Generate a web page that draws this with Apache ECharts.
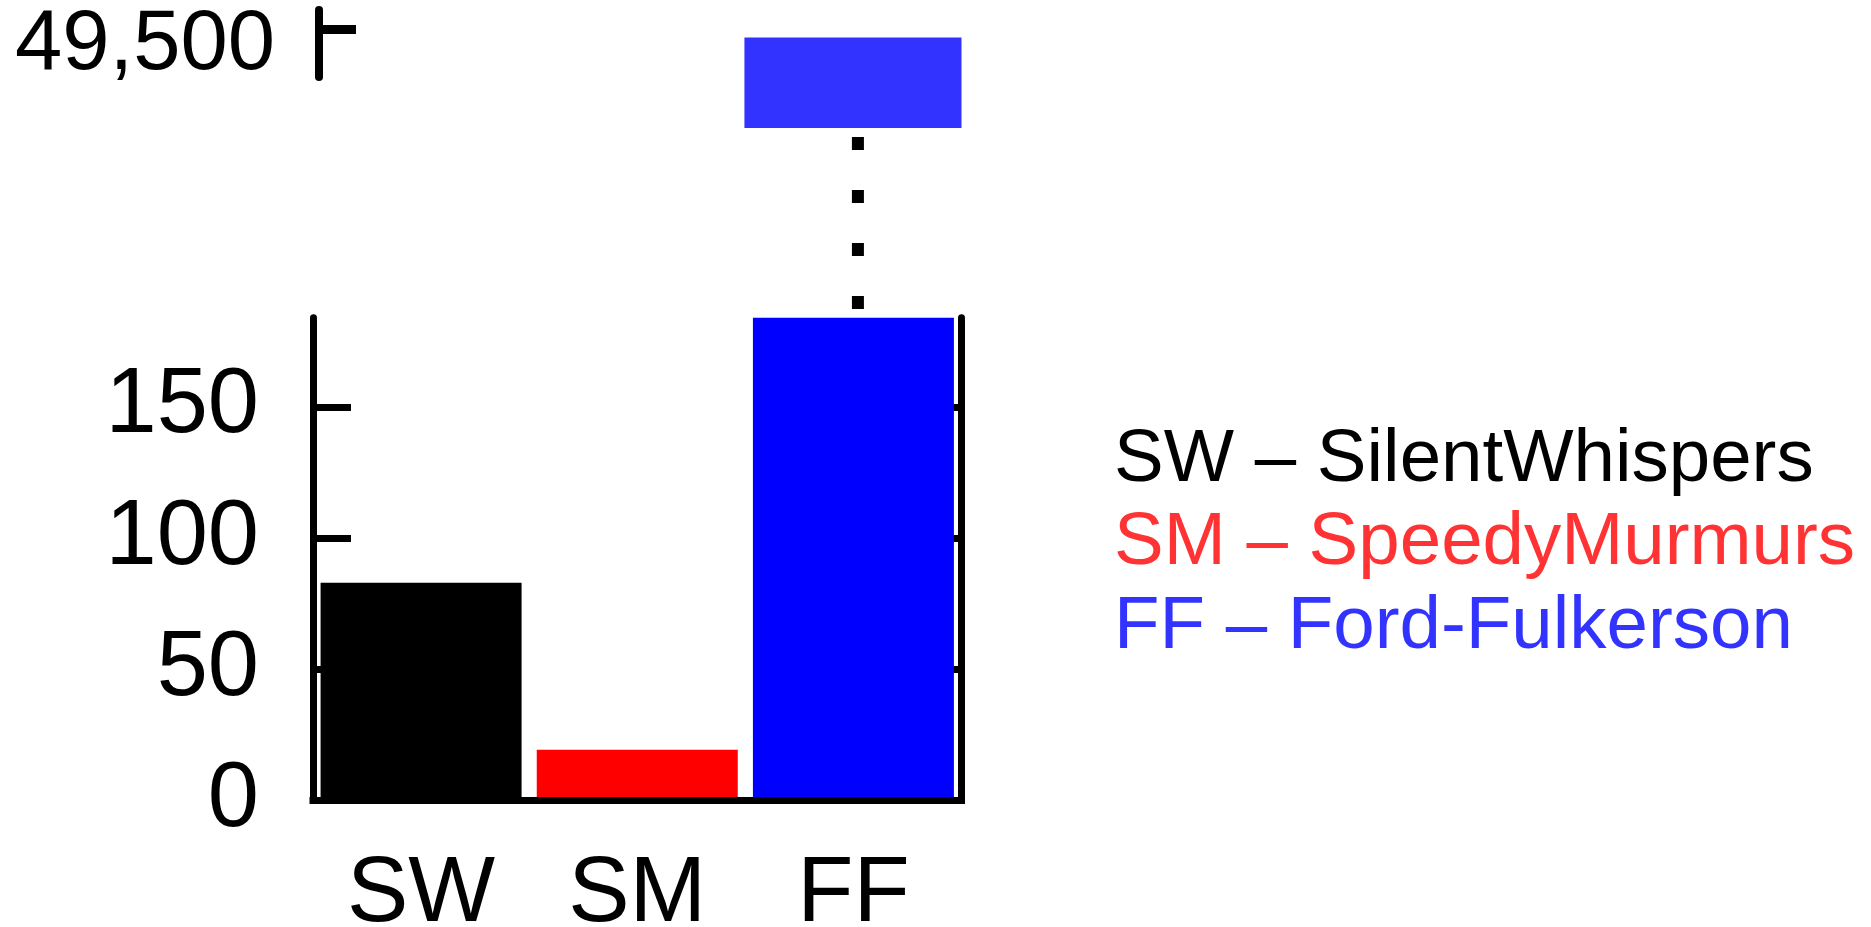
<!DOCTYPE html>
<html>
<head>
<meta charset="utf-8">
<script src="https://cdn.jsdelivr.net/npm/echarts@6/dist/echarts.min.js"></script>
<style>
html,body{margin:0;padding:0;background:#fff;}
#chart{width:1871px;height:927px;}
</style>
</head>
<body>
<div id="chart"></div>
<script>
// ---- data ----
const categories = ['SW', 'SM', 'FF'];
const values = [83, 19.3, 49497];
const barColors = ['#000000', '#ff0000', '#0000ff'];
const brokenBarColor = '#3333ff';
const lowerTicks = [0, 50, 100, 150];
const upperTicks = [49500];
const legendLines = ['SW \u2013 SilentWhispers', 'SM \u2013 SpeedyMurmurs', 'FF \u2013 Ford-Fulkerson'];
const legendColors = ['#000000', '#ff3333', '#3333ff'];

// ---- axis ranges ----
const lowerMin = 0, lowerMax = 184;
const upperBarMin = 49462.5, upperMax = 49507.5;
const upperAxisMin = 49482;

const FONT = "'Liberation Sans', Arial, sans-serif";
const fmt = v => Number(v).toLocaleString('en-US');
const brokenCats = categories.filter((c, i) => values[i] > lowerMax);

const chart = echarts.init(document.getElementById('chart'), null, {renderer: 'canvas'});

const rich = {};
legendLines.forEach((t, i) => {
  rich['l' + i] = {color: legendColors[i], fontSize: 74.5, lineHeight: 83.3, fontFamily: FONT, fontWeight: 'normal'};
});

const option = {
  animation: false,
  backgroundColor: '#ffffff',
  title: {
    text: legendLines.map((t, i) => '{l' + i + '|' + t + '}').join('\n'),
    left: 1114,
    top: 419,
    padding: 0,
    textStyle: {fontSize: 74.5, lineHeight: 83.3, fontFamily: FONT, fontWeight: 'normal', rich: rich}
  },
  grid: [
    {left: 313, right: 909.5, top: 317.8, bottom: 126.5, outerBoundsMode: 'none', containLabel: false},
    {left: 313, right: 909.5, top: 10, height: 118, outerBoundsMode: 'none', containLabel: false},
    {left: 319, top: 10, height: 66.9, width: 600, outerBoundsMode: 'none', containLabel: false},
    {left: 317.5, right: 905, top: 137, bottom: 618, outerBoundsMode: 'none', containLabel: false}
  ],
  xAxis: [
    {
      gridIndex: 0, type: 'category', data: categories, z: 3,
      axisLine: {show: true, lineStyle: {color: '#000', width: 7, cap: 'square'}},
      axisTick: {show: false},
      axisLabel: {color: '#000', fontSize: 92, fontFamily: FONT, margin: 49}
    },
    {gridIndex: 1, type: 'category', data: categories, show: false},
    {gridIndex: 2, type: 'category', data: categories, show: false},
    {gridIndex: 3, type: 'category', data: categories, show: false}
  ],
  yAxis: [
    {
      gridIndex: 0, type: 'value', min: lowerMin, max: lowerMax, position: 'left',
      axisLine: {show: true, lineStyle: {color: '#000', width: 7}},
      axisTick: {show: true, inside: true, length: 38, lineStyle: {color: '#000', width: 7}, customValues: lowerTicks},
      axisLabel: {show: true, color: '#000', fontSize: 92, fontFamily: FONT, margin: 54, customValues: lowerTicks},
      splitLine: {show: false}
    },
    {
      gridIndex: 0, type: 'value', min: lowerMin, max: lowerMax, position: 'right',
      axisLine: {show: true, lineStyle: {color: '#000', width: 7}},
      axisTick: {show: true, inside: true, length: 38, lineStyle: {color: '#000', width: 7}, customValues: lowerTicks},
      axisLabel: {show: false},
      splitLine: {show: false}
    },
    {gridIndex: 1, type: 'value', min: upperBarMin, max: upperMax, show: false, splitLine: {show: false}},
    {
      gridIndex: 2, type: 'value', min: upperAxisMin, max: upperMax, position: 'left',
      axisLine: {show: true, lineStyle: {color: '#000', width: 8}},
      axisTick: {show: true, inside: true, length: 37, lineStyle: {color: '#000', width: 9}, customValues: upperTicks},
      axisLabel: {show: true, color: '#000', fontSize: 85, fontFamily: FONT, margin: 44,
                  verticalAlign: 'top', lineHeight: 31, customValues: upperTicks, formatter: fmt},
      splitLine: {show: false}
    },
    {gridIndex: 3, type: 'value', min: 0, max: 1, show: false, splitLine: {show: false}}
  ],
  series: [
    {
      type: 'bar', xAxisIndex: 0, yAxisIndex: 0, barWidth: 201, clip: true,
      data: values.map((v, i) => ({value: v, itemStyle: {color: barColors[i]}}))
    },
    {
      type: 'bar', xAxisIndex: 1, yAxisIndex: 2, barWidth: 218, clip: true,
      itemStyle: {color: brokenBarColor},
      data: values.map(v => v > lowerMax ? v : '-')
    },
    {
      type: 'line', xAxisIndex: 3, yAxisIndex: 4, symbol: 'none',
      lineStyle: {color: '#000', width: 12, type: [13, 40], cap: 'butt'},
      data: brokenCats.length ? [[brokenCats[0], 1], [brokenCats[0], 0]] : []
    }
  ]
};
chart.setOption(option);
</script>
</body>
</html>
